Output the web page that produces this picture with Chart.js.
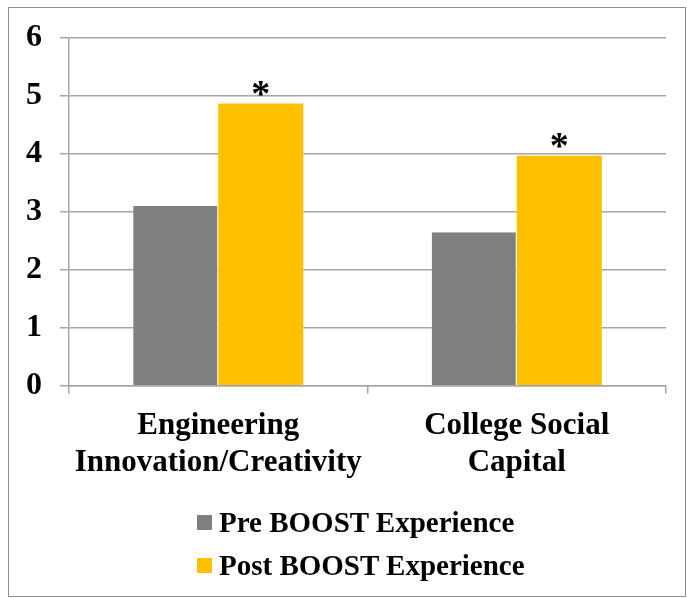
<!DOCTYPE html>
<html>
<head>
<meta charset="utf-8">
<script src="https://cdn.jsdelivr.net/npm/chart.js@4.4.0/dist/chart.umd.min.js"></script>
<style>
    body { margin: 0; background: #fff; }
    #frame {
        position: absolute; left: 8px; top: 7px; width: 678px; height: 590px;
        border: 1px solid #8c8c8c; box-sizing: border-box;
    }
    #chart { position: absolute; left: 0; top: 0; }
    #legend {
        position: absolute; left: 188px; top: 493px;
        font-family: "Liberation Serif", "Times New Roman", serif;
        font-weight: bold; font-size: 29px; color: #000;
    }
    .legend-item { display: flex; align-items: center; height: 43px; }
    .legend-box { width: 15px; height: 15px; margin-right: 7px; }
</style>
</head>
<body>
<div id="frame">
    <canvas id="chart" width="676" height="588"></canvas>
    <div id="legend"></div>
</div>
<script>
const categories = [['Engineering', 'Innovation/Creativity'], ['College Social', 'Capital']];
const seriesNames = ['Pre BOOST Experience', 'Post BOOST Experience'];
const preValues = [3.1, 2.65];
const postValues = [4.87, 3.97];
const significant = [true, true];
const yTicks = [0, 1, 2, 3, 4, 5, 6];

const serif = '"Liberation Serif", "Times New Roman", serif';

const asteriskPlugin = {
    id: 'asterisks',
    afterDatasetsDraw(chart) {
        const ctx = chart.ctx;
        const meta = chart.getDatasetMeta(1);
        ctx.save();
        ctx.fillStyle = '#000';
        ctx.font = 'bold 38px ' + serif;
        ctx.textAlign = 'center';
        ctx.textBaseline = 'alphabetic';
        meta.data.forEach((bar, i) => {
            if (significant[i]) {
                ctx.fillText('*', bar.x, bar.y + 2);
            }
        });
        ctx.restore();
    }
};

const chart = new Chart(document.getElementById('chart').getContext('2d'), {
    type: 'bar',
    data: {
        labels: categories,
        datasets: [{
            label: seriesNames[0],
            data: preValues,
            backgroundColor: '#808080',
            borderColor: '#ffffff',
            borderWidth: { right: 1 },
            categoryPercentage: 0.57,
            barPercentage: 1.0
        }, {
            label: seriesNames[1],
            data: postValues,
            backgroundColor: '#FFC000',
            categoryPercentage: 0.57,
            barPercentage: 1.0
        }]
    },
    options: {
        responsive: false,
        animation: false,
        layout: {
            padding: { left: 17, right: 19, top: 30, bottom: 101 }
        },
        plugins: {
            legend: { display: false },
            tooltip: { enabled: false }
        },
        scales: {
            y: {
                min: 0,
                max: 6,
                afterBuildTicks: axis => {
                    axis.ticks = yTicks.map(v => ({ value: v }));
                },
                afterFit: scale => {
                    scale.width = 43;
                    scale.paddingTop = 0;
                    scale.paddingBottom = 0;
                },
                grid: {
                    color: '#a6a6a6',
                    lineWidth: 1.5,
                    tickLength: 9
                },
                border: { color: '#a6a6a6', width: 1.5 },
                ticks: {
                    color: '#000',
                    padding: 18,
                    font: { family: serif, size: 32, weight: 'bold' }
                }
            },
            x: {
                afterFit: scale => {
                    scale.paddingLeft = 0;
                    scale.paddingRight = 0;
                },
                grid: {
                    drawOnChartArea: false,
                    color: '#a6a6a6',
                    lineWidth: 1.5,
                    tickLength: 8
                },
                border: { color: '#a6a6a6', width: 1.5 },
                ticks: {
                    color: '#000',
                    padding: 14,
                    maxRotation: 0,
                    minRotation: 0,
                    autoSkip: false,
                    font: { family: serif, size: 31, weight: 'bold', lineHeight: 1.18 }
                }
            }
        }
    },
    plugins: [asteriskPlugin]
});

const legend = document.getElementById('legend');
chart.data.datasets.forEach(ds => {
    const item = document.createElement('div');
    item.className = 'legend-item';
    const box = document.createElement('span');
    box.className = 'legend-box';
    box.style.background = ds.backgroundColor;
    const text = document.createElement('span');
    text.textContent = ds.label;
    item.appendChild(box);
    item.appendChild(text);
    legend.appendChild(item);
});
</script>
</body>
</html>
